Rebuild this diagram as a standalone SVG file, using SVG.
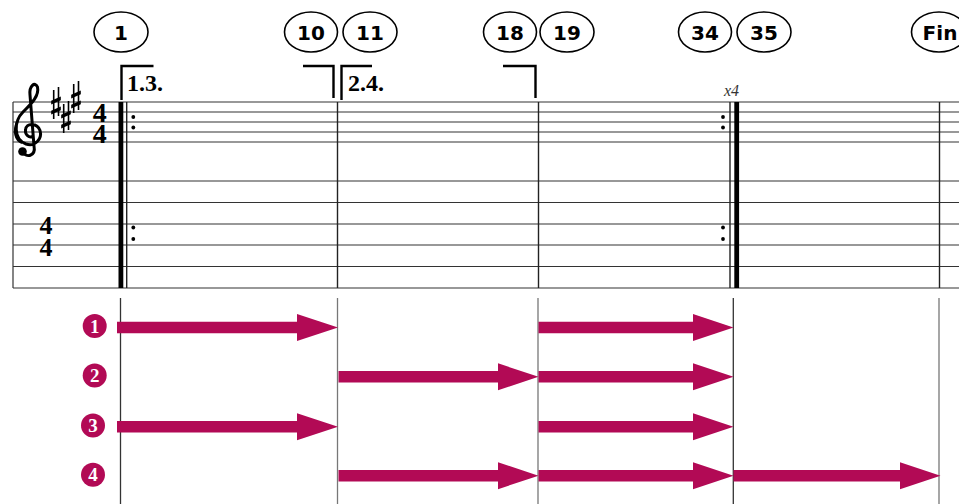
<svg xmlns="http://www.w3.org/2000/svg" width="959" height="504" viewBox="0 0 959 504">
<style>
.staff{stroke:#333;stroke-width:1.2;fill:none}
.bar{stroke:#222;stroke-width:1.4}
.guide{stroke-width:1.3}
.lab ellipse{fill:#fff;stroke:#000;stroke-width:1.6}
.lab text{font-family:"DejaVu Sans",Verdana,sans-serif;font-weight:bold;font-size:20px;text-anchor:middle;fill:#000}
.volta{fill:none;stroke:#000;stroke-width:2.4}
.vtext{font-family:"Liberation Serif","Times New Roman",serif;font-weight:bold;font-size:24px;fill:#000}
.ts{font-family:"Liberation Serif","Times New Roman",serif;font-weight:bold;fill:#000;writing-mode:vertical-rl;text-orientation:upright}
.arr{fill:#B20A55}
.num circle{fill:#B20A55}
.num text{font-family:"Liberation Serif","Times New Roman",serif;font-weight:bold;font-size:19px;fill:#fff;text-anchor:middle}
</style>
<defs>
<g id="sharp">
<line x1="-2.3" y1="-13" x2="-2.3" y2="16" stroke="#000" stroke-width="1.6"/>
<line x1="2.5" y1="-16" x2="2.5" y2="13" stroke="#000" stroke-width="1.6"/>
<polygon points="-4.8,-2.2 4.8,-6.5 4.8,-2.8 -4.8,1.5" fill="#000"/>
<polygon points="-4.8,7.8 4.8,3.5 4.8,7.2 -4.8,11.5" fill="#000"/>
</g>
</defs>
<rect width="959" height="504" fill="#fff"/>

<g id="rehearsal-labels" class="lab">
<g id="m1"><ellipse cx="121" cy="32" rx="27" ry="20"/><text x="121" y="39.5">1</text></g>
<g id="m10"><ellipse cx="311" cy="32" rx="26.5" ry="20"/><text x="311" y="39.5">10</text></g>
<g id="m11"><ellipse cx="370" cy="32" rx="27" ry="20"/><text x="370" y="39.5">11</text></g>
<g id="m18"><ellipse cx="510" cy="32" rx="26.5" ry="20"/><text x="510" y="39.5">18</text></g>
<g id="m19"><ellipse cx="567" cy="32" rx="27" ry="20"/><text x="567" y="39.5">19</text></g>
<g id="m34"><ellipse cx="705" cy="32" rx="26.5" ry="20"/><text x="705" y="39.5">34</text></g>
<g id="m35"><ellipse cx="764" cy="32" rx="27" ry="20"/><text x="764" y="39.5">35</text></g>
<g id="fin"><ellipse cx="939" cy="32" rx="27.5" ry="20"/><text x="940" y="39.5">Fin</text></g>
</g>

<g id="staff">
<g class="staff">
<line x1="13" y1="102" x2="959" y2="102"/>
<line x1="13" y1="112" x2="959" y2="112"/>
<line x1="13" y1="122" x2="959" y2="122"/>
<line x1="13" y1="132" x2="959" y2="132"/>
<line x1="13" y1="142" x2="959" y2="142"/>
<line x1="13" y1="181" x2="959" y2="181"/>
<line x1="13" y1="202.5" x2="959" y2="202.5"/>
<line x1="13" y1="224" x2="959" y2="224"/>
<line x1="13" y1="245" x2="959" y2="245"/>
<line x1="13" y1="266.5" x2="959" y2="266.5"/>
<line x1="13" y1="288" x2="959" y2="288"/>
<line x1="13" y1="102" x2="13" y2="288"/>
</g>
<g id="clef">
<path d="M 22 151 C 26 159, 36 156, 34 146 L 30 95 C 29 86, 35 81, 37.5 87 C 39.5 96, 31 104, 23 112 C 14 121, 13 139, 26 144 C 35 147, 42.5 139, 40 130.5 C 37.5 123, 26 122, 25.5 130 C 25 135, 29 138, 32.5 136.5" fill="none" stroke="#000" stroke-width="3" stroke-linecap="round"/>
<path d="M 17 122 C 13 131, 15 140, 22 143" fill="none" stroke="#000" stroke-width="2.2"/>
<circle cx="22.5" cy="151.5" r="4.3" fill="#000"/>
</g>
<g id="key">
<use href="#sharp" x="56" y="103"/>
<use href="#sharp" x="66" y="117"/>
<use href="#sharp" x="76" y="97"/>
</g>
<g id="timesig">
<text class="ts" x="99.7" y="97" font-size="28" letter-spacing="-10">44</text>
<text class="ts" x="46" y="211" font-size="26" letter-spacing="-7">44</text>
</g>
<g id="barlines">
<rect x="118.5" y="102" width="4.8" height="186" fill="#000"/>
<line class="bar" x1="126.7" y1="102" x2="126.7" y2="288"/>
<line class="bar" x1="337.5" y1="102" x2="337.5" y2="288"/>
<line class="bar" x1="538.5" y1="102" x2="538.5" y2="288"/>
<line class="bar" x1="730" y1="102" x2="730" y2="288"/>
<rect x="734.3" y="102" width="4.8" height="186" fill="#000"/>
<line class="bar" x1="939.5" y1="102" x2="939.5" y2="288"/>
<g fill="#000">
<circle cx="133.3" cy="117" r="1.9"/><circle cx="133.3" cy="127.5" r="1.9"/>
<circle cx="133.3" cy="227.5" r="1.9"/><circle cx="133.3" cy="239" r="1.9"/>
<circle cx="723" cy="117" r="1.9"/><circle cx="723" cy="127.5" r="1.9"/>
<circle cx="723" cy="227.5" r="1.9"/><circle cx="723" cy="239" r="1.9"/>
</g>
</g>
<g id="voltas">
<polyline class="volta" points="121.5,100 121.5,66 153.5,66"/>
<text class="vtext" x="127" y="91">1.3.</text>
<polyline class="volta" points="303,66 333.5,66 333.5,98"/>
<polyline class="volta" points="341.5,100 341.5,66 372,66"/>
<text class="vtext" x="348" y="91">2.4.</text>
<polyline class="volta" points="503,66 535.5,66 535.5,98"/>
</g>
<text x="724" y="96" font-family="Liberation Serif,'Times New Roman',serif" font-style="italic" font-size="16" fill="#333">x4</text>
</g>

<g id="guides" class="guide">
<line x1="120.5" y1="298" x2="120.5" y2="504" stroke="#333"/>
<line x1="337.5" y1="298" x2="337.5" y2="504" stroke="#777"/>
<line x1="538" y1="298" x2="538" y2="504" stroke="#777"/>
<line x1="733.3" y1="298" x2="733.3" y2="504" stroke="#333"/>
<line x1="939" y1="298" x2="939" y2="504" stroke="#777"/>
</g>

<g id="voices" class="num">
<g id="v1"><circle cx="94.7" cy="326" r="12"/><text x="94.7" y="332.5">1</text></g>
<g id="v2"><circle cx="94.7" cy="375.5" r="12"/><text x="94.7" y="382">2</text></g>
<g id="v3"><circle cx="93" cy="425.5" r="12"/><text x="93" y="432">3</text></g>
<g id="v4"><circle cx="93" cy="474.7" r="12"/><text x="93" y="481.2">4</text></g>
</g>

<g id="connectors" class="arr">
<polygon points="117,321.7 297,321.7 297,314 338,327.5 297,341 297,333.3 117,333.3"/>
<polygon points="538.5,321.7 693,321.7 693,314 733.5,327.5 693,341 693,333.3 538.5,333.3"/>
<polygon points="338.5,371 498,371 498,363.3 538.5,376.8 498,390.3 498,382.6 338.5,382.6"/>
<polygon points="538.5,371 693,371 693,363.3 733.5,376.8 693,390.3 693,382.6 538.5,382.6"/>
<polygon points="117,420.9 297,420.9 297,413.2 338,426.7 297,440.2 297,432.5 117,432.5"/>
<polygon points="538.5,420.9 693,420.9 693,413.2 733.5,426.7 693,440.2 693,432.5 538.5,432.5"/>
<polygon points="338.5,469.9 498,469.9 498,462.2 538.5,475.7 498,489.2 498,481.5 338.5,481.5"/>
<polygon points="538.5,469.9 693,469.9 693,462.2 733.5,475.7 693,489.2 693,481.5 538.5,481.5"/>
<polygon points="733.5,469.9 900,469.9 900,462.2 940.5,475.7 900,489.2 900,481.5 733.5,481.5"/>
</g>
</svg>
